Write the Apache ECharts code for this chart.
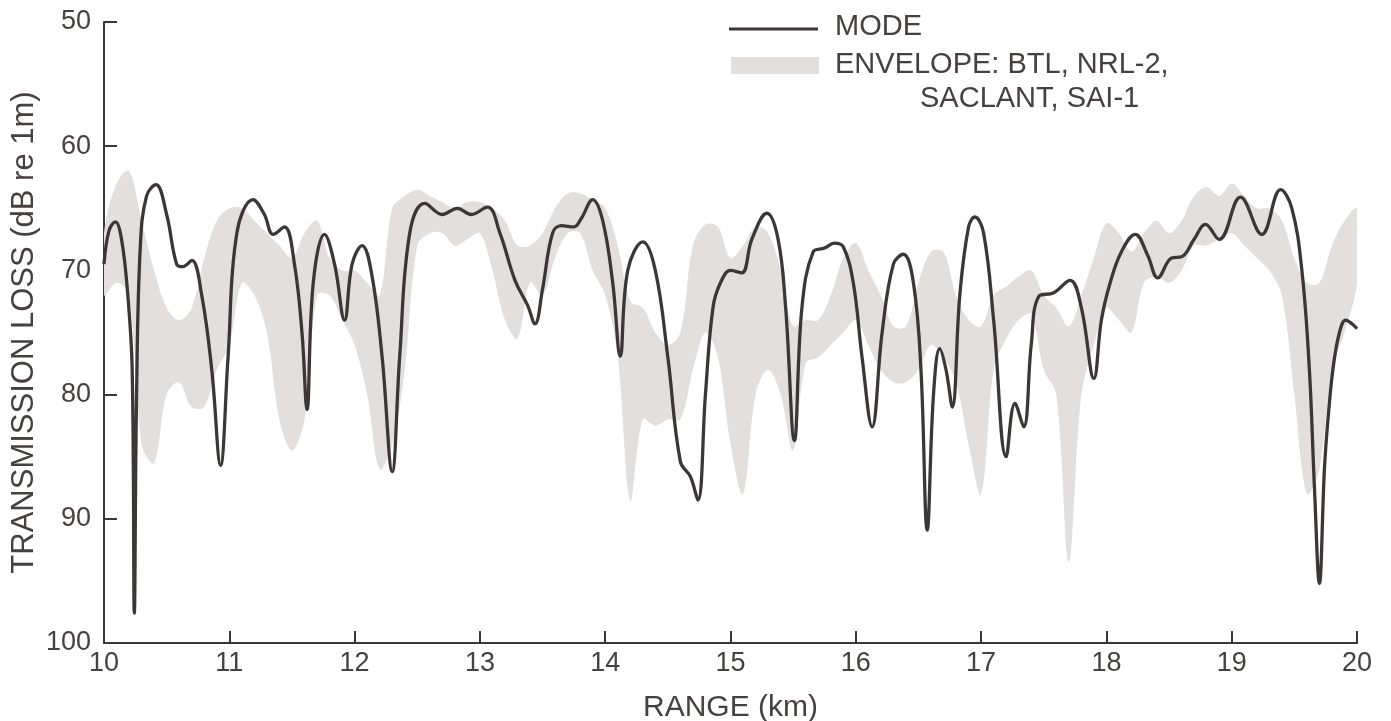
<!DOCTYPE html>
<html>
<head>
<meta charset="utf-8">
<script src="https://cdn.jsdelivr.net/npm/echarts@6/dist/echarts.min.js"></script>
<style>
  html, body { margin: 0; padding: 0; background: #ffffff; }
  #chart { width: 1391px; height: 721px; }
</style>
</head>
<body>
<div id="chart"></div>
<script>
// ---- Data ----
const modeRange = [10.00,10.04,10.09,10.14,10.19,10.225,10.242,10.26,10.29,10.34,10.415,10.50,10.58,10.63,10.70,10.78,10.86,10.93,10.99,11.06,11.19,11.28,11.35,11.44,11.52,11.58,11.62,11.67,11.76,11.84,11.92,11.98,12.06,12.14,12.22,12.30,12.36,12.44,12.56,12.70,12.82,12.93,13.06,13.16,13.28,13.38,13.44,13.50,13.58,13.65,13.75,13.81,13.90,13.98,14.06,14.12,14.18,14.30,14.40,14.50,14.60,14.68,14.74,14.80,14.86,14.92,15.00,15.09,15.17,15.29,15.38,15.44,15.51,15.57,15.66,15.75,15.83,15.90,15.98,16.05,16.13,16.21,16.30,16.38,16.46,16.52,16.57,16.62,16.67,16.72,16.77,16.83,16.90,16.95,17.02,17.10,17.20,17.27,17.34,17.40,17.46,17.58,17.71,17.80,17.90,17.96,18.03,18.12,18.23,18.33,18.41,18.52,18.60,18.70,18.79,18.90,19.07,19.24,19.39,19.48,19.56,19.62,19.66,19.70,19.74,19.77,19.81,19.86,19.91,19.96,20.00];
const modeLoss = [69.5,66.8,66.1,67.5,72,78,97.6,80,68,64,63.1,65.5,69.5,69.7,69.2,72,78,85.7,77,67,64.3,65.5,67.1,66.5,69.5,75,81.2,71,67.1,69.5,74.0,69.5,68.0,70.5,77,86.2,76.9,67,64.6,65.5,65.0,65.5,64.9,67,70.8,72.8,74.3,71.5,67,66.4,66.5,65.8,64.3,66,71,76.9,70,67.7,70,77,85.4,86.6,88.5,80,73,71.0,70.0,70.2,67.5,65.4,67.5,73,83.7,73,68.5,68.2,67.8,68.1,71,77,82.6,75,69.5,68.7,71,78,90.9,80,76.3,78,81.0,72,66.5,65.7,67,74,85.0,80.7,82.6,76,72.1,71.8,70.8,73,78.7,74,71.0,68.5,67.1,68.8,70.6,69.0,68.9,67.5,66.3,67.5,64.1,67.1,63.5,65,70,78,87.4,95.2,86,81.8,77.8,75,74.0,74.3,74.7];

const envRange = [10.0,10.1,10.2,10.3,10.4,10.5,10.6,10.7,10.8,10.9,11.0,11.1,11.2,11.3,11.4,11.5,11.6,11.7,11.8,11.9,12.0,12.1,12.2,12.3,12.4,12.5,12.6,12.7,12.8,12.9,13.0,13.1,13.2,13.3,13.4,13.5,13.6,13.7,13.8,13.9,14.0,14.1,14.2,14.3,14.4,14.5,14.6,14.7,14.8,14.9,15.0,15.1,15.2,15.3,15.4,15.5,15.6,15.7,15.8,15.9,16.0,16.1,16.2,16.3,16.4,16.5,16.6,16.7,16.8,16.9,17.0,17.1,17.2,17.3,17.4,17.5,17.6,17.7,17.8,17.9,18.0,18.1,18.2,18.3,18.4,18.5,18.6,18.7,18.8,18.9,19.0,19.1,19.2,19.3,19.4,19.5,19.6,19.7,19.8,19.9,20.0];
const envLow  = [67,63,62,66,70,73,74,73,69,66,65,65,66,67,68,69,67,66,69,70,70,71,72,65,64,63.5,64,64.5,65,64.5,64.5,65,66,68,68,67,65,63.8,63.8,64.3,65,68,72.5,73,75,76,75,68,66.3,66.5,69,68,66.5,67,70,74.5,74,74,72,69,67.8,70,72,74.5,74.5,71,68.5,68.5,72,74,74.5,72,71.3,70.5,70,72,73,74.5,72,69,66.2,67,68.5,67,66,67,66,64,63.3,64,63,64,65,65,66,69,71,71,68,66,65];
const envHigh = [72,71,72,84,85.5,80,79,81,81,78,76,71,72,75,82,84.5,82,72,72,74,76,80,86,84,78,68,67,67,68,67.5,67,70,74,75.5,71,72,69,67,67,70,72,77,88.5,82,82.5,82,82,78,75,77,84,88,80,78,80,84.5,77.5,77,76,75,74,76,78,79,79,78,76,77,79,84,88,78,75.5,74,73.5,78,80,93.5,80,76,73,74,75,71,70.5,71,70,68,68,67.5,67,68,69,70,72,80,88,86,78,75,71];

const yTicks = [50, 60, 70, 80, 90, 100];
const xTicks = [10, 11, 12, 13, 14, 15, 16, 17, 18, 19, 20];

// ---- Build series data ----
const modeData = modeRange.map((x, i) => [x, modeLoss[i]]);
const envData = envRange.map((x, i) => [x, envLow[i], envHigh[i]]);

const ink = '#3d3636';
const textInk = '#474040';
const envFill = '#e2dfdd';
const font = "'Liberation Sans', Arial, Helvetica, sans-serif";

function renderEnvelope(params, api) {
  if (params.dataIndex !== 0) return null;
  const upper = envData.map(d => api.coord([d[0], d[1]]));
  const lower = envData.map(d => api.coord([d[0], d[2]])).reverse();
  return {
    type: 'polygon',
    shape: { points: upper.concat(lower), smooth: 0.35 },
    style: { fill: envFill, stroke: null }
  };
}

const chart = echarts.init(document.getElementById('chart'), null, { renderer: 'canvas' });
chart.setOption({
  backgroundColor: '#ffffff',
  animation: false,
  grid: { left: 104, right: 34, top: 22, bottom: 78, containLabel: false, outerBoundsMode: 'none' },
  xAxis: {
    type: 'value',
    min: xTicks[0], max: xTicks[xTicks.length - 1], interval: 1,
    name: 'RANGE (km)', nameLocation: 'middle', nameGap: 50, nameMoveOverlap: false,
    nameTextStyle: { color: textInk, fontSize: 30, fontFamily: font },
    axisLine: { show: true, onZero: false, lineStyle: { color: ink, width: 2 } },
    axisTick: { show: true, inside: true, length: 12, lineStyle: { color: ink, width: 2 } },
    axisLabel: { color: textInk, fontSize: 27, fontFamily: font, margin: 7 },
    splitLine: { show: false }
  },
  yAxis: {
    type: 'value', inverse: true,
    min: yTicks[0], max: yTicks[yTicks.length - 1], interval: 10,
    name: 'TRANSMISSION LOSS (dB re 1m)', nameLocation: 'middle', nameGap: 64, nameMoveOverlap: false,
    nameTextStyle: { color: textInk, fontSize: 31, fontFamily: font },
    axisLine: { show: true, onZero: false, lineStyle: { color: ink, width: 2 } },
    axisTick: { show: true, inside: true, length: 13, lineStyle: { color: ink, width: 2 } },
    axisLabel: { color: textInk, fontSize: 27, fontFamily: font, margin: 13 },
    splitLine: { show: false }
  },
  series: [
    {
      name: 'ENVELOPE: BTL, NRL-2, SACLANT, SAI-1', type: 'custom',
      data: envData, renderItem: renderEnvelope, silent: true, z: 1,
      encode: { x: 0, y: [1, 2] }, clip: true
    },
    {
      name: 'MODE', type: 'line', data: modeData,
      smooth: 0.4, symbol: 'none', lineStyle: { color: ink, width: 3.3 }, z: 3
    }
  ],
  graphic: [
    { type: 'line', z: 100, shape: { x1: 729, y1: 29, x2: 818, y2: 29 }, style: { stroke: ink, lineWidth: 3 } },
    { type: 'rect', z: 100, shape: { x: 731, y: 57, width: 88, height: 17 }, style: { fill: envFill } },
    { type: 'text', z: 100, x: 835, y: 27, style: { text: 'MODE', fill: textInk, font: "29px " + font, verticalAlign: 'middle' } },
    { type: 'text', z: 100, x: 835, y: 65, style: { text: 'ENVELOPE: BTL, NRL-2,', fill: textInk, font: "29px " + font, verticalAlign: 'middle' } },
    { type: 'text', z: 100, x: 920, y: 99, style: { text: 'SACLANT, SAI-1', fill: textInk, font: "29px " + font, verticalAlign: 'middle' } }
  ]
});
</script>
</body>
</html>
